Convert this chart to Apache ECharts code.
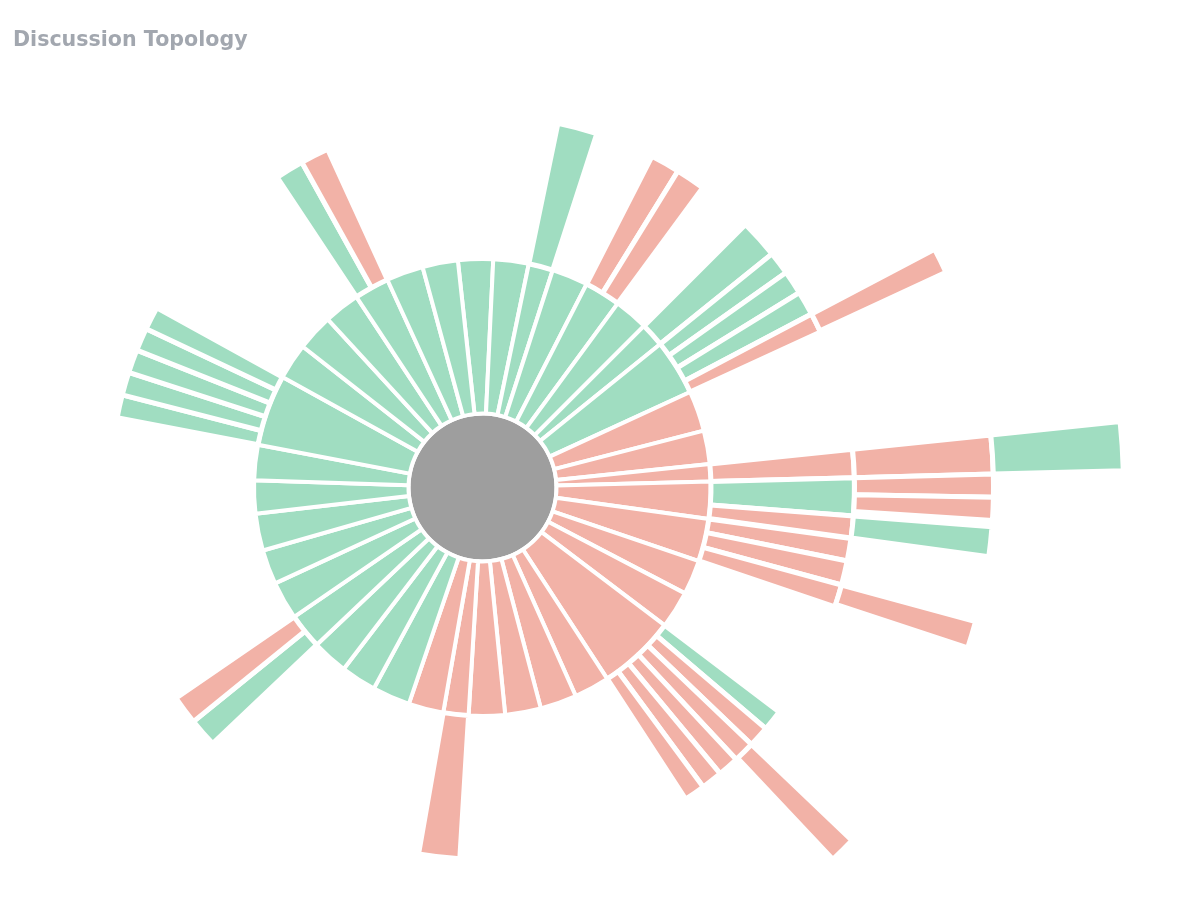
<!DOCTYPE html>
<html>
<head>
<meta charset="utf-8">
<script src="https://cdn.jsdelivr.net/npm/echarts@6/dist/echarts.min.js"></script>
<style>
html,body{margin:0;padding:0;background:#ffffff;}
#chart{width:1200px;height:915px;}
</style>
</head>
<body>
<div id="chart"></div>
<script>
// ---- data -------------------------------------------------------------
const chartTitle = 'Discussion Topology';

// Ring 1 (direct replies), clockwise starting just left of 12 o'clock
const ring1Values = [8.9, 9.0, 6.2, 9.2, 9.2, 8.7, 6.1, 14.2,
  10.3, 8.5, 4.4, 9.4, 10.9, 8.8, 9.5, 19.8, 9.0, 9.3, 9.1, 9.2, 6.4, 8.9,
  9.6, 9.0, 9.1, 9.0, 9.7, 8.8, 9.4, 8.4, 9.0, 18.1, 9.2, 9.3, 9.1, 8.9, 9.4, 9.0];
const ring1Tones = ['pos','pos','pos','pos','pos','pos','pos','pos',
  'neg','neg','neg','neg','neg','neg','neg','neg','neg','neg','neg','neg','neg','neg',
  'pos','pos','pos','pos','pos','pos','pos','pos','pos','pos','pos','pos','pos','pos','pos','pos'];

// Ring 2 (replies to replies), grouped by parent path
const ring2Parents = ['2', '4', '6', '7', '10', '11', '12', '15', '20', '25', '31', '35'];
const ring2Values = [[6.2], [4.6, 4.6], [6.1], [3.6, 3.7, 3.8, 3.1], [4.4], [5.9, 3.4],
  [3.5, 3.8, 3.5], [3.3, 3.3, 3.3, 3.3, 3.3, 3.3], [6.4], [4.5, 4.5],
  [3.62, 3.62, 3.62, 3.62, 3.62], [4.45, 4.45]];
const ring2Tones = [['pos'], ['neg','neg'], ['pos'], ['pos','pos','pos','neg'], ['neg'], ['pos','neg'],
  ['neg','neg','neg'], ['pos','neg','neg','neg','neg','neg'], ['neg'], ['pos','neg'],
  ['pos','pos','pos','pos','pos'], ['pos','neg']];

// Ring 3
const ring3Parents = ['7.3', '10.0', '11.0', '11.1', '12.2', '15.2'];
const ring3Values = [[2.9], [4.4], [2.6, 2.6], [3.4], [3.1], [3.0]];
const ring3Tones = [['neg'], ['neg'], ['neg','neg'], ['pos'], ['neg'], ['neg']];

// Ring 4
const ring4Parents = ['10.0.0'];
const ring4Values = [[4.4]];
const ring4Tones = [['pos']];

const toneColors = { pos: '#A0DDC1', neg: '#F2B2A7', root: '#9E9E9E' };

// ---- build tree ---------------------------------------------------------
function buildTree() {
  const byPath = {};
  const root = { name: 'Post', itemStyle: { color: toneColors.root }, children: [] };
  ring1Values.forEach(function (v, i) {
    const node = { name: 'Reply ' + i, value: v, itemStyle: { color: toneColors[ring1Tones[i]] } };
    byPath[String(i)] = node;
    root.children.push(node);
  });
  function attach(parents, values, tones) {
    parents.forEach(function (p, gi) {
      const parent = byPath[p];
      parent.children = parent.children || [];
      values[gi].forEach(function (v, j) {
        const node = { name: 'Reply ' + p + '.' + j, value: v, itemStyle: { color: toneColors[tones[gi][j]] } };
        byPath[p + '.' + j] = node;
        parent.children.push(node);
      });
    });
  }
  attach(ring2Parents, ring2Values, ring2Tones);
  attach(ring3Parents, ring3Values, ring3Tones);
  attach(ring4Parents, ring4Values, ring4Tones);
  return [root];
}

const chart = echarts.init(document.getElementById('chart'), null, { renderer: 'canvas' });
chart.setOption({
  animation: false,
  backgroundColor: '#ffffff',
  title: {
    text: chartTitle,
    left: 8,
    top: 25,
    textStyle: { fontSize: 20.6, fontWeight: 'bold', color: '#A2A7AF', fontFamily: 'DejaVu Sans' }
  },
  series: [{
    type: 'sunburst',
    center: [482.5, 487.5],
    startAngle: 96.2,
    clockwise: true,
    sort: null,
    nodeClick: false,
    data: buildTree(),
    label: { show: false },
    emphasis: { disabled: true },
    itemStyle: { borderColor: '#ffffff', borderWidth: 4 },
    levels: [
      {},
      { r0: 0, r: 74, itemStyle: { borderWidth: 4 } },
      { r0: 74, r: 228.5, itemStyle: { borderWidth: 4 } },
      { r0: 228.5, r: 372, itemStyle: { borderWidth: 5 } },
      { r0: 372, r: 511, itemStyle: { borderWidth: 5 } },
      { r0: 511, r: 641, itemStyle: { borderWidth: 5 } }
    ]
  }]
});
</script>
</body>
</html>
